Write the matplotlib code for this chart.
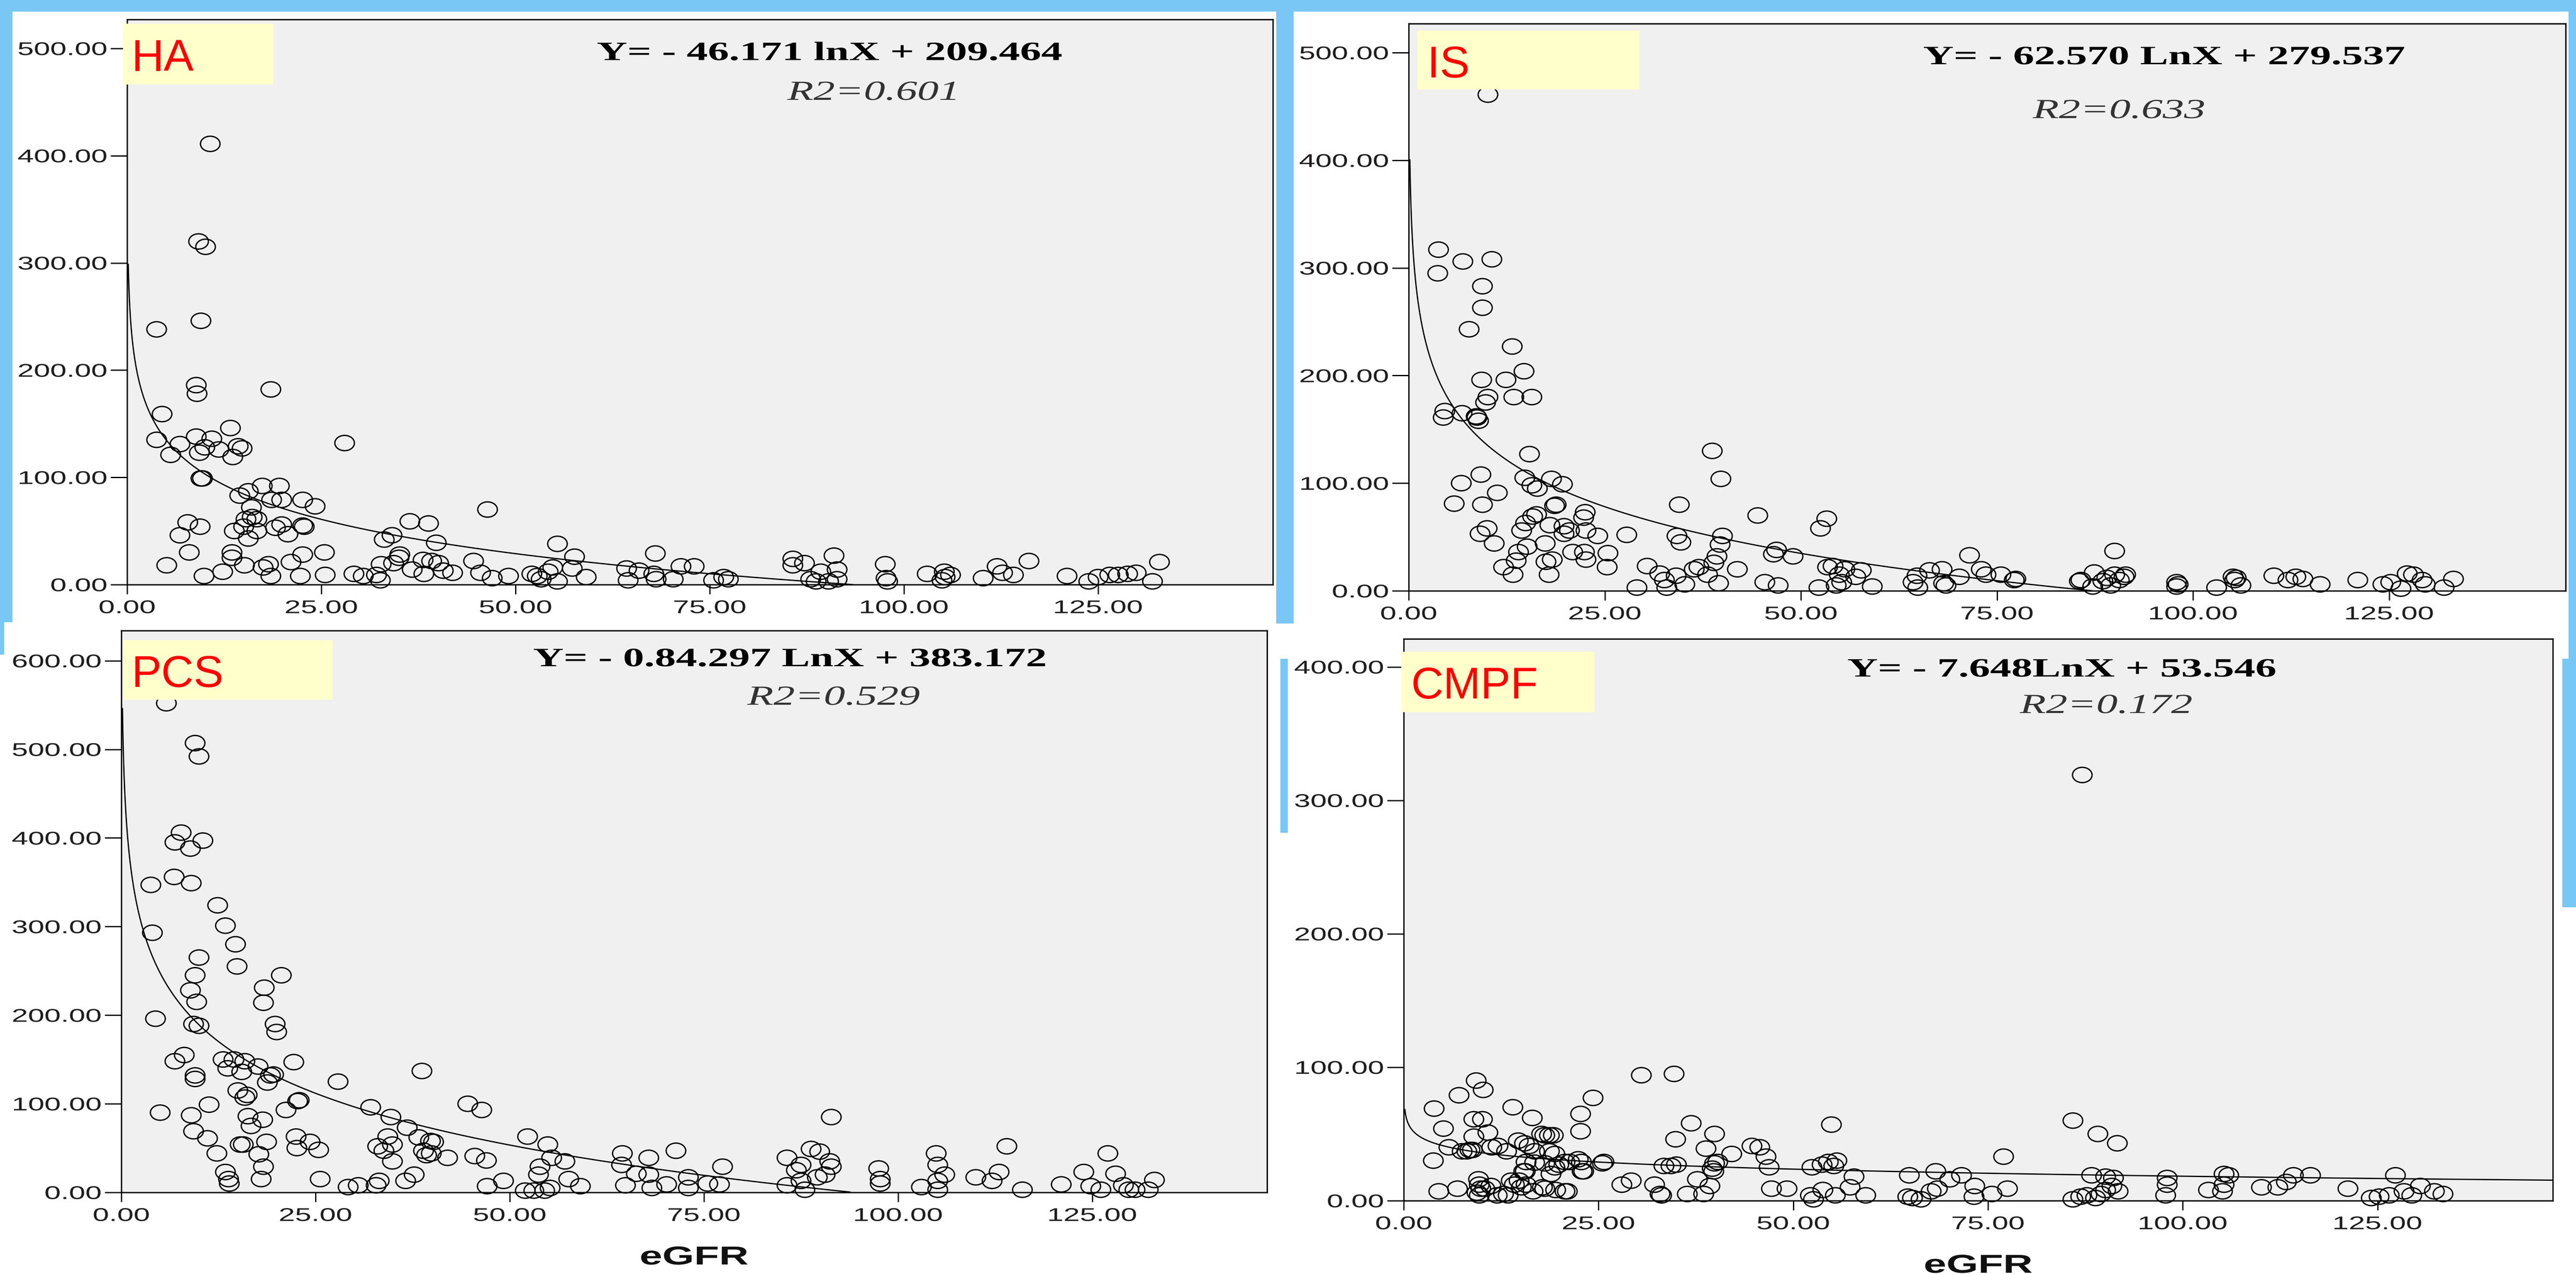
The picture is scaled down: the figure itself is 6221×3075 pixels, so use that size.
import numpy as np
import matplotlib
matplotlib.use('Agg')
import matplotlib.pyplot as plt
import matplotlib.patheffects as pe
from matplotlib.patches import Rectangle
from matplotlib.path import Path
from matplotlib.transforms import Affine2D
from matplotlib.ticker import FormatStrFormatter

plt.rcParams['font.family'] = ['Liberation Sans', 'DejaVu Sans']

# ---- values (eGFR vs toxin level) ----
panel_names = ['HA', 'IS', 'PCS', 'CMPF']
slopes = [-46.171, -62.570, -84.297, -7.648]
intercepts = [209.464, 279.537, 383.172, 53.546]
equations = ['Y= - 46.171 lnX + 209.464', 'Y= - 62.570 LnX + 279.537',
             'Y= - 0.84.297 LnX + 383.172', 'Y= - 7.648LnX + 53.546']
r2_labels = ['R2=0.601', 'R2=0.633', 'R2=0.529', 'R2=0.172']
y_ticks = [[0, 100, 200, 300, 400, 500], [0, 100, 200, 300, 400, 500],
           [0, 100, 200, 300, 400, 500, 600], [0, 100, 200, 300, 400]]
y_tops = [527, 527, 634, 421]
x_ticks = [0, 25, 50, 75, 100, 125]
x_max = 147.5

ha_egfr = [10.7, 9.2, 10.1, 9.5, 3.8, 8.9, 9.0, 18.5, 4.5, 13.3,
           3.8, 6.8, 8.9, 10.9, 5.6, 9.3, 10.0, 11.8, 13.6, 14.3,
           14.8, 28.0, 9.5, 9.7, 17.4, 19.6, 14.5, 15.6, 18.6, 19.9,
           22.6, 24.2, 16.0, 7.8, 9.4, 6.8, 8.0, 5.1, 9.9, 13.5,
           13.5, 12.3, 15.1, 15.3, 16.1, 16.7, 15.0, 13.8, 15.6, 16.7,
           19.9, 20.7, 19.1, 22.8, 22.6, 17.5, 18.2, 18.5, 21.1, 22.6,
           22.3, 25.4, 25.5, 29.2, 30.4, 32.1, 32.6, 32.7, 33.1, 34.1,
           34.3, 35.0, 35.1, 36.4, 36.7, 38.2, 38.8, 38.1, 39.2, 39.8,
           40.1, 40.7, 41.9, 44.6, 45.5, 46.4, 47.0, 49.1, 52.1, 52.8,
           53.3, 54.2, 54.8, 55.4, 55.4, 57.3, 57.6, 59.1, 64.3, 64.5,
           65.9, 67.8, 68.0, 68.1, 70.3, 71.3, 73.0, 75.5, 76.8, 77.4,
           85.7, 85.7, 87.2, 88.0, 88.7, 89.3, 90.3, 91.0, 91.4, 91.4,
           97.6, 97.7, 97.9, 103.0, 104.9, 105.2, 105.3, 106.0, 110.2, 112.0,
           112.7, 114.1, 116.1, 121.0, 123.8, 125.0, 126.5, 127.6, 128.8, 129.9,
           132.0, 132.9]
ha_level = [411, 320, 315, 246, 238, 186, 178, 182, 159, 146,
            135, 131, 138, 136, 121, 123, 128, 126, 119, 129,
            127, 132, 99, 99, 92, 92, 83, 87, 79, 79,
            79, 73, 72, 58, 54, 46, 30, 18, 8, 30,
            25, 12, 18, 61, 63, 61, 54, 50, 43, 50,
            56, 47, 53, 54, 55, 16, 19, 8, 21, 28,
            8, 30, 9, 10, 8, 9, 4, 19, 42, 46,
            20, 25, 28, 59, 14, 10, 57, 23, 22, 39,
            20, 13, 11, 22, 11, 70, 6, 8, 10, 8,
            5, 12, 16, 38, 3, 15, 26, 7, 15, 4,
            13, 10, 29, 5, 5, 17, 17, 4, 7, 5,
            24, 18, 20, 5, 3, 12, 3, 27, 14, 5,
            19, 6, 3, 10, 4, 12, 7, 9, 6, 17,
            11, 9, 22, 8, 3, 7, 9, 9, 10, 11,
            3, 21]

is_egfr = [10.1, 3.8, 3.7, 6.9, 10.6, 9.4, 9.4, 7.7, 13.2, 14.7,
           9.3, 12.4, 10.1, 9.8, 13.4, 15.7, 4.6, 4.4, 6.8, 8.6,
           8.9, 8.7, 15.4, 9.2, 6.7, 5.8, 9.4, 11.3, 14.8, 15.7,
           16.4, 18.2, 19.6, 18.8, 18.6, 16.3, 15.8, 14.9, 14.4, 10.0,
           9.1, 10.9, 15.1, 14.0, 13.7, 12.1, 13.3, 17.9, 17.5, 18.3,
           17.4, 18.0, 19.8, 20.5, 19.8, 22.3, 22.5, 22.6, 24.1, 20.9,
           22.4, 22.6, 25.4, 25.3, 27.8, 29.1, 30.4, 32.0, 32.6, 32.9,
           34.1, 34.5, 34.2, 34.7, 35.2, 36.4, 37.0, 38.1, 38.7, 38.9,
           39.3, 39.8, 39.7, 40.0, 39.5, 41.9, 44.5, 45.4, 46.5, 46.9,
           47.1, 49.0, 52.3, 52.5, 53.3, 53.4, 54.1, 54.5, 54.9, 55.2,
           55.6, 57.0, 57.7, 59.1, 64.3, 64.8, 64.9, 66.4, 68.0, 68.2,
           68.5, 70.2, 71.5, 73.0, 73.6, 75.5, 77.2, 77.4, 85.5, 85.7,
           87.4, 87.2, 88.5, 89.0, 89.5, 90.0, 90.0, 90.6, 91.2, 91.4,
           97.9, 97.9, 98.1, 103.0, 105.1, 105.3, 105.5, 106.1, 110.3, 112.1,
           113.1, 114.0, 116.2, 121.0, 124.2, 125.2, 126.5, 127.3, 128.1, 129.2,
           129.6, 132.0, 133.2]
is_level = [461, 317, 295, 306, 308, 283, 263, 243, 227, 204,
            196, 196, 180, 175, 180, 180, 167, 161, 165, 162,
            158, 161, 127, 108, 100, 81, 80, 91, 105, 98,
            95, 104, 99, 80, 79, 71, 69, 63, 56, 58,
            53, 44, 41, 36, 28, 22, 15, 15, 27, 29,
            44, 61, 60, 56, 53, 68, 73, 56, 51, 36,
            36, 29, 35, 22, 52, 3, 23, 16, 10, 3,
            14, 80, 51, 45, 6, 20, 22, 15, 130, 26,
            32, 104, 43, 51, 7, 20, 70, 8, 34, 38,
            5, 32, 3, 58, 67, 22, 23, 5, 15, 8,
            20, 13, 19, 4, 8, 14, 3, 19, 20, 7,
            5, 13, 33, 20, 15, 15, 10, 11, 9, 10,
            17, 4, 9, 12, 5, 37, 15, 10, 13, 15,
            8, 4, 6, 3, 13, 10, 12, 5, 14, 10,
            13, 11, 6, 10, 6, 8, 2, 16, 15, 10,
            6, 3, 11]

pcs_egfr = [5.8, 9.5, 10.0, 7.7, 6.9, 8.9, 10.5, 3.8, 6.8, 9.0,
            12.4, 13.4, 4.0, 14.7, 10.0, 14.9, 9.5, 20.6, 18.4, 8.9,
            9.7, 18.3, 4.4, 9.3, 10.0, 19.8, 20.0, 6.9, 8.1, 13.1,
            14.5, 15.9, 13.7, 15.5, 17.6, 19.6, 19.2, 18.8, 22.2, 9.5,
            9.5, 27.9, 38.7, 5.0, 11.3, 9.0, 15.0, 16.2, 15.9, 16.3,
            16.7, 18.2, 21.2, 22.5, 22.6, 22.9, 22.7, 24.3, 25.4, 9.3,
            11.1, 12.3, 15.3, 15.7, 17.7, 18.7, 18.3, 18.0, 13.4, 13.8,
            13.9, 25.6, 29.2, 30.5, 32.1, 33.0, 34.3, 33.8, 34.9, 34.9,
            34.7, 33.2, 32.8, 36.8, 37.7, 36.6, 38.3, 38.9, 39.3, 39.8,
            40.2, 39.9, 42.0, 44.6, 46.4, 45.5, 47.0, 47.1, 49.2, 52.0,
            52.3, 53.1, 53.7, 53.9, 54.5, 54.9, 55.2, 55.4, 57.1, 57.6,
            59.1, 64.5, 64.4, 64.9, 66.3, 67.9, 67.9, 68.3, 70.2, 71.4,
            73.0, 73.0, 75.5, 77.0, 77.4, 85.7, 85.7, 86.9, 87.5, 87.5,
            88.0, 88.8, 89.9, 89.6, 90.6, 91.2, 91.4, 91.4, 97.5, 97.7,
            97.7, 103.0, 104.9, 105.1, 105.1, 105.1, 106.0, 110.0, 112.1, 113.0,
            114.0, 116.0, 121.0, 123.9, 124.8, 126.1, 127.0, 128.0, 129.0, 129.7,
            130.5, 132.2, 133.0]
pcs_level = [552, 507, 492, 406, 395, 388, 397, 347, 356, 349,
             324, 301, 293, 280, 265, 255, 245, 245, 231, 228,
             215, 214, 196, 190, 188, 190, 181, 148, 155, 150,
             150, 148, 140, 136, 142, 133, 132, 124, 147, 132,
             128, 125, 137, 90, 99, 87, 115, 110, 107, 86,
             75, 82, 93, 63, 50, 104, 103, 57, 48, 69,
             61, 44, 54, 54, 43, 57, 29, 15, 23, 15,
             10, 15, 6, 8, 96, 52, 63, 47, 54, 35,
             85, 13, 8, 73, 20, 13, 62, 47, 42, 58,
             57, 44, 39, 100, 93, 41, 36, 7, 13, 2,
             63, 2, 20, 29, 2, 54, 5, 39, 35, 15,
             7, 44, 31, 8, 21, 39, 20, 5, 9, 47,
             17, 5, 10, 9, 29, 39, 8, 25, 31, 13,
             3, 49, 46, 17, 20, 35, 29, 85, 27, 15,
             10, 6, 44, 31, 13, 3, 20, 17, 13, 23,
             52, 3, 9, 23, 7, 3, 44, 21, 8, 3,
             3, 3, 14]

cmpf_egfr = [87.1, 30.5, 34.7, 9.3, 10.2, 7.1, 24.3, 3.9, 14.0, 22.7,
             9.0, 10.1, 16.5, 36.9, 54.9, 85.9, 5.1, 10.8, 22.7, 9.0,
             17.7, 18.7, 39.9, 89.1, 91.6, 34.9, 14.7, 15.5, 44.7, 45.7,
             5.8, 7.5, 8.5, 11.3, 13.2, 16.8, 18.7, 19.4, 38.8, 42.1,
             46.5, 77.0, 3.8, 15.7, 19.9, 21.3, 22.8, 25.5, 25.7, 33.4,
             34.3, 35.0, 39.9, 40.3, 39.6, 39.8, 46.9, 52.4, 53.7, 54.5,
             55.2, 55.6, 57.8, 64.9, 68.3, 70.1, 71.6, 88.3, 90.1, 91.1,
             98.0, 105.3, 105.9, 114.2, 116.4, 127.3, 15.6, 18.9, 22.9, 28.0,
             29.2, 32.2, 32.9, 33.1, 36.4, 37.7, 38.5, 39.3, 47.2, 49.2,
             52.2, 52.6, 53.8, 55.4, 57.3, 59.3, 64.7, 65.3, 66.4, 67.7,
             68.5, 73.2, 73.3, 75.5, 77.5, 85.9, 86.9, 87.7, 88.8, 89.5,
             90.1, 90.9, 91.7, 97.8, 98.0, 103.3, 105.1, 105.3, 110.1, 112.2,
             113.3, 121.2, 124.2, 125.2, 126.5, 128.4, 129.4, 130.5, 132.3, 133.4,
             4.5, 6.9, 9.6, 9.7, 9.9, 9.7, 11.2, 12.0, 13.4, 13.8,
             14.2, 15.7, 16.6, 17.8, 19.5, 21.0, 18.1, 19.2, 8.1, 8.8,
             12.1, 16.1, 16.8, 18.1, 19.4, 20.7, 22.4, 23.1, 15.4, 9.4,
             10.4, 12.8, 14.8, 15.1, 18.1, 20.7]
cmpf_level = [319, 94, 95, 90, 83, 79, 77, 69, 70, 65,
              61, 61, 62, 58, 57, 60, 54, 51, 52, 48,
              50, 49, 50, 50, 43, 46, 45, 43, 41, 40,
              40, 37, 38, 40, 37, 37, 37, 35, 39, 35,
              33, 33, 30, 29, 27, 29, 29, 28, 29, 26,
              26, 27, 28, 29, 24, 22, 25, 25, 27, 29,
              26, 30, 18, 19, 22, 16, 19, 19, 18, 17,
              17, 20, 19, 19, 19, 19, 22, 20, 22, 12,
              15, 12, 5, 4, 5, 16, 5, 11, 9, 9,
              4, 1, 8, 4, 10, 4, 3, 2, 1, 7,
              9, 3, 11, 5, 9, 1, 3, 4, 2, 5,
              8, 11, 7, 4, 12, 8, 7, 12, 10, 10,
              14, 9, 2, 3, 4, 7, 4, 11, 7, 5,
              7, 9, 16, 12, 9, 4, 11, 4, 4, 15,
              12, 12, 7, 10, 8, 7, 49, 49, 37, 38,
              41, 41, 28.5, 28, 25, 29, 31, 22, 22, 6,
              9, 5, 15, 10, 9, 7]

egfr = [ha_egfr, is_egfr, pcs_egfr, cmpf_egfr]
levels = [ha_level, is_level, pcs_level, cmpf_level]

# ---- layout, measured in pixels of the 6221 x 3075 screenshot ----
W, H = 6221, 3075
axes_px = [(307, 47, 3074, 1411), (3402, 57, 6196, 1426),
           (293, 1522, 3060, 2878), (3390, 1542, 6165, 2898)]
tag_boxes = [(297, 57, 660, 204), (3423, 74, 3959, 216),
             (297, 1545, 803, 1689), (3384, 1573, 3850, 1719)]
tag_text_at = [(317, 172), (3447, 187), (317, 1658), (3408, 1686)]
eq_at = [(2003, 145), (5226, 155), (1907, 1608), (4979, 1633)]
r2_at = [(2108, 241), (5117, 285), (2013, 1701), (5086, 1721)]
blue_bits = [(0, 0, W, 28), (0, 0, 30, 1502), (3082, 0, 3124, 1505),
             (6203, 0, W, 1600), (6188, 1590, W, 2190),
             (3092, 1590, 3110, 2010), (0, 1502, 10, 1580)]
BLUE = '#79C7F4'
STRETCH = 1.6


class StretchX(pe.AbstractPathEffect):
    """widen glyphs sideways - the source screenshot was stretched horizontally"""

    def __init__(self, factor=STRETCH, anchor='center'):
        super().__init__()
        self.factor = factor
        self.anchor = anchor

    def draw_path(self, renderer, gc, tpath, affine, rgbFace=None):
        ext = affine.transform_path(tpath).get_extents()
        if self.anchor == 'right':
            x0 = ext.x1
        elif self.anchor == 'left':
            x0 = ext.x0
        else:
            x0 = (ext.x0 + ext.x1) / 2
        widen = Affine2D().translate(-x0, 0).scale(self.factor, 1).translate(x0, 0)
        renderer.draw_path(gc, tpath, affine + widen, rgbFace)


def fx(px):
    return px / W


def fy(py):
    return 1 - py / H


def add_rect(x0, y0, x1, y1, color, z):
    fig.add_artist(Rectangle((fx(x0), fy(y1)), (x1 - x0) / W, (y1 - y0) / H,
                             transform=fig.transFigure, facecolor=color,
                             edgecolor='none', zorder=z))


fig = plt.figure(figsize=(W / 200, H / 200), dpi=200, facecolor='white')

for b in blue_bits:
    add_rect(*b, BLUE, -1)

# open circles come out slightly flattened in the stretched screenshot
ring = Path.unit_circle().transformed(Affine2D().scale(1, 0.78))

for i, (x0, y0, x1, y1) in enumerate(axes_px):
    ax = fig.add_axes([fx(x0), fy(y1), (x1 - x0) / W, (y1 - y0) / H])
    ax.set_facecolor('#F0F0F0')

    ax.scatter(egfr[i], levels[i], s=290, marker=ring, facecolors='none',
               edgecolors='black', linewidths=1.15, zorder=3, clip_on=False)

    xs = np.geomspace(0.145, x_max, 1500)
    ys = slopes[i] * np.log(xs) + intercepts[i]
    keep = ys >= 0
    ax.plot(xs[keep], ys[keep], color='black', lw=1.1, zorder=2)

    ax.set_xlim(0, x_max)
    ax.set_ylim(0, y_tops[i])
    ax.set_xticks(x_ticks)
    ax.set_yticks(y_ticks[i])
    ax.xaxis.set_major_formatter(FormatStrFormatter('%.2f'))
    ax.yaxis.set_major_formatter(FormatStrFormatter('%.2f'))
    ax.tick_params(axis='y', direction='out', length=14.4, width=1.1, pad=3,
                   labelsize=16, labelcolor='#1e1e1e')
    ax.tick_params(axis='x', direction='out', length=8.3, width=1.1, pad=5,
                   labelsize=16, labelcolor='#1e1e1e')
    for sp in ax.spines.values():
        sp.set_linewidth(1.2)
    for lbl in ax.get_yticklabels():
        lbl.set_path_effects([StretchX(anchor='right')])
    for lbl in ax.get_xticklabels():
        lbl.set_path_effects([StretchX()])

    # panel tag in a pale yellow box
    add_rect(*tag_boxes[i], '#FFFFCC', 5)
    fig.text(fx(tag_text_at[i][0]), fy(tag_text_at[i][1]), panel_names[i],
             color='#FF0000', fontsize=39, ha='left', va='baseline', zorder=6)

    fig.text(fx(eq_at[i][0]), fy(eq_at[i][1]), equations[i], ha='center',
             va='baseline', family=['Liberation Serif', 'DejaVu Serif'],
             weight='bold', fontsize=23, path_effects=[StretchX()])
    fig.text(fx(r2_at[i][0]), fy(r2_at[i][1]), r2_labels[i], ha='center',
             va='baseline', family=['Liberation Serif', 'DejaVu Serif'],
             style='italic', fontsize=24, color='#333333',
             path_effects=[StretchX(1.55)])

    if i >= 2:
        fig.text(fx((x0 + x1) / 2), fy(y1 + 174), 'eGFR', ha='center',
                 va='baseline', weight='bold', fontsize=22.5, color='#111111',
                 path_effects=[StretchX(1.58)])

fig.savefig('out.png', dpi=200, facecolor='white')
